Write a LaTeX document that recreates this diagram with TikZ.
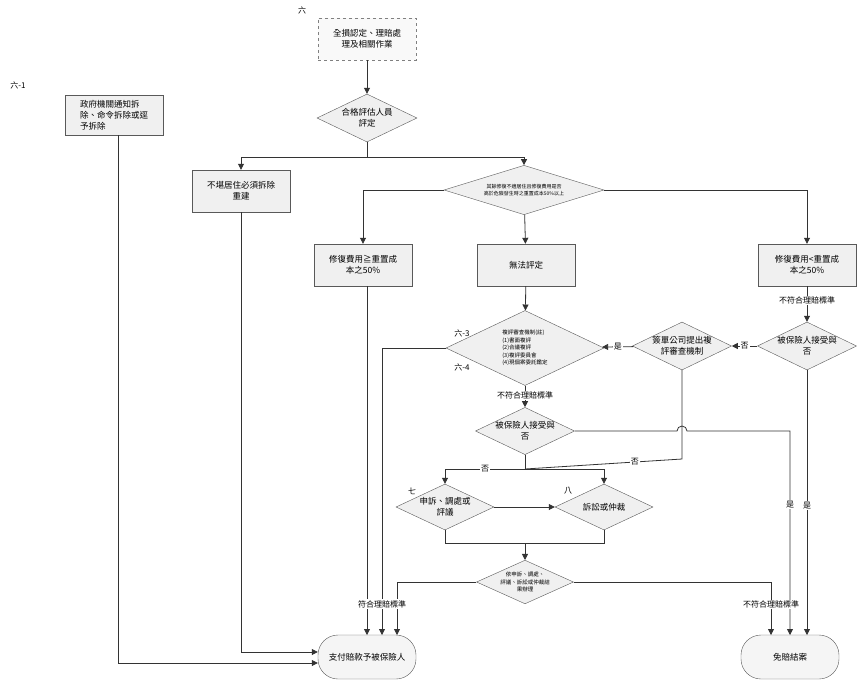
\documentclass[tikz,border=0pt]{standalone}
\usepackage{fontspec}
\setmainfont{Noto Sans CJK TC}
\XeTeXlinebreaklocale "zh"
\usetikzlibrary{shapes.geometric,arrows.meta}
\begin{document}
\begin{tikzpicture}[x=1pt,y=-1pt,
  every node/.style={font=\fontsize{8.5}{11}\selectfont},
  box/.style={draw=gray!70!black,fill=gray!12,minimum width=98pt,minimum height=42pt,align=center,inner sep=2pt},
  dia/.style={diamond,aspect=2.1,draw=gray!70!black,fill=gray!12,align=center,inner sep=0pt},
  term/.style={draw=gray!70!black,fill=gray!8,rounded corners=20pt,minimum width=98pt,minimum height=44pt,align=center},
  ln/.style={draw=gray!40!black,line width=0.8pt},
  ar/.style={ln,-{Triangle[length=6pt,width=6pt]}},
  lab/.style={fill=white,inner sep=1pt,font=\fontsize{8}{10}\selectfont},
  tag/.style={font=\fontsize{8}{10}\selectfont}]
\useasboundingbox (0,0) rectangle (857,681);
\node[box,dashed,draw=gray,fill=gray!5] (A) at (367,39) {全損認定、理賠處\\理及相關作業};
\node[dia,minimum width=100pt,minimum height=48pt] (B) at (367,118) {合格評估人員\\評定};
\node[box] (C) at (241,191) {不堪居住必須拆除\\重建};
\node[dia,minimum width=160pt,minimum height=40pt,font=\fontsize{5}{6.5}\selectfont] (D) at (524,190) {其餘修復不適居住且修復費用是否\\高於危險發生時之重置成本50\%以上};
\node[box] (E) at (363,265) {修復費用≧重置成\\本之50\%};
\node[box] (F) at (526,265) {無法評定};
\node[box] (G) at (807,265) {修復費用<重置成\\本之50\%};
\node[box,minimum height=40pt,align=left] (H) at (114,115) {政府機關通知拆\\除、命令拆除或逕\\予拆除};
\node[dia,minimum width=158pt,minimum height=75pt,align=left,font=\fontsize{5.5}{7.5}\selectfont] (I) at (525,348) {複評審查機制(註)\\(1)書面複評\\(2)合議複評\\(3)複評委員會\\(4)現個案委託鑑定};
\node[dia,minimum width=89pt,minimum height=48pt] (J) at (807,346) {被保險人接受與\\否};
\node[dia,minimum width=96pt,minimum height=48pt] (K) at (682,346) {簽單公司提出複\\評審查機制};
\node[dia,minimum width=97pt,minimum height=44pt] (L) at (525,431) {被保險人接受與\\否};
\node[dia,minimum width=98pt,minimum height=46pt] (M) at (445,507) {申訴、調處或\\評議};
\node[dia,minimum width=98pt,minimum height=46pt] (N) at (604,507) {訴訟或仲裁};
\node[dia,minimum width=97pt,minimum height=43pt,font=\fontsize{5.5}{7.5}\selectfont] (O) at (525,582) {依申訴、調處、\\評議、訴訟或仲裁結\\果辦理};
\node[term] (P) at (367,657) {支付賠款予被保險人};
\node[term] (Q) at (790,657) {免賠結案};
\node[tag] (t6) at (302,10) {六};
\node[tag] (t61) at (18,85) {六-1};
\node[tag] (t63) at (462,333) {六-3};
\node[tag] (t64) at (462,367) {六-4};
\node[tag] (t7) at (412,491) {七};
\node[tag] (t8) at (568,491) {八};
\coordinate (s1) at (367,157);
\coordinate (s2) at (525,469);
\coordinate (s3) at (525,543);
% connectors
\draw[ar] (A) -- (B);
\draw[ln] (B) -- (s1);
\draw[ar] (s1) -| (C);
\draw[ar] (s1) -| (D);
\draw[ar] (D.west) -| (E.north);
\draw[ar] (D.east) -| (G.north);
\draw[ar] (D) -- (F);
\draw[ar] (F) -- (I);
\draw[ar] (G) -- node[lab,pos=0.4]{不符合理賠標準} (J);
\draw[ar] (J) -- node[lab]{否} (K);
\draw[ar] (K) -- node[lab]{是} (I);
\draw[ar] (I) -- node[lab,pos=0.45]{不符合理賠標準} (L);
\draw[ln] (K.south) -- (682,459) -- node[lab,pos=0.3]{否} (s2);
\draw[ln] (L.south) -- (s2);
\draw[ar] (s2) -- node[lab,pos=0.5]{否} (445,469) -- (M.north);
\draw[ar] (s2) -| (N.north);
\draw[ar] (M) -- (N);
\draw[ln] (M.south) |- (s3);
\draw[ln] (N.south) |- (s3);
\draw[ar] (s3) -- (O);
\draw[ar] (L.east) -- (677,431) arc (180:360:5) -- (790,431) -- node[lab,pos=0.36]{是} (790,635);
\draw[ar] (J.south) -- node[lab,pos=0.51]{是} (807,635);
\draw[ar] (O.east) -- (771,582) -- node[lab,pos=0.42]{不符合理賠標準} (771,635);
\draw[ar] (O.west) -- (397,582) -- (397,635);
\draw[ar] (I.west) -- (382,348) -- (382,635);
\draw[ar] (E.south) ++(4,0) -- (367,635);
\node[lab] (ok) at (382,604) {符合理賠標準};
\draw[ar] (C.south) -- (241,652) -- (P.west |- 0,652);
\draw[ar] (H.south) ++(4,0) -- (118,663) -- (P.west |- 0,663);
\end{tikzpicture}
\end{document}
